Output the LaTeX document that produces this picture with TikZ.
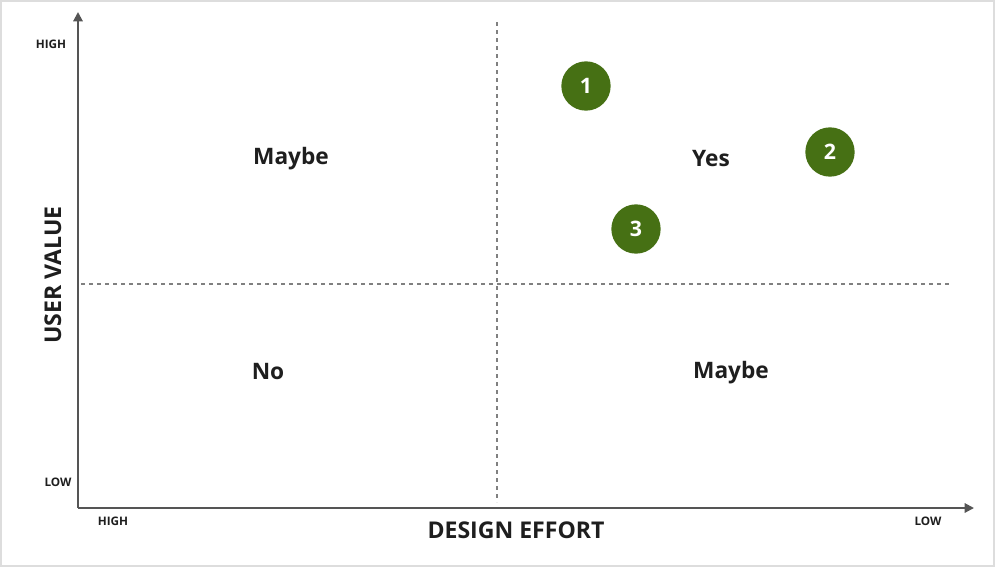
\documentclass[tikz,border=0pt]{standalone}
\usepackage{fontspec}
\setmainfont{Open Sans}
\usetikzlibrary{arrows.meta, positioning}
\usepackage{xcolor}
\definecolor{axisgray}{HTML}{555555}
\definecolor{dashgray}{HTML}{808080}
\definecolor{pointgreen}{HTML}{467014}
\definecolor{framegray}{HTML}{DDDDDD}
\definecolor{textdark}{HTML}{1E1E1E}

\tikzset{
    axis/.style={line width=1.5pt, axisgray, -{Triangle[length=7pt,width=7pt]}},
    divider/.style={line width=0.9pt, dashgray, dash pattern=on 3pt off 3pt},
    tick/.style={font=\bfseries\fontsize{8.8}{10}\selectfont, textdark},
    quadrant/.style={font=\bfseries\fontsize{17}{20}\selectfont, textdark},
    axistitle/.style={font=\bfseries\fontsize{17.3}{20}\selectfont, textdark},
    point/.style={circle, fill=pointgreen, minimum size=37pt, inner sep=0pt,
        text=white, font=\bfseries\fontsize{16}{19}\selectfont}
}

\begin{document}
\begin{tikzpicture}[x=0.75pt, y=-0.75pt]
        \useasboundingbox (0,0) rectangle (996,568);
        % Frame
        \draw[framegray, line width=0.8pt] (1,1) rectangle (994,566);

        % Axes
        \coordinate (origin) at (78,508);
        \coordinate (ytop) at (78,12);
        \coordinate (xend) at (974,508);
        \draw[axis] (origin) -- (ytop);
        \draw[axis] (origin) -- (xend);

        % Quadrant dividers
        \coordinate (vtop) at (497,22);
        \coordinate (vbot) at (497,502);
        \coordinate (hleft) at (81,284);
        \coordinate (hright) at (952,284);
        \draw[divider] (vtop) -- (vbot);
        \draw[divider] (hleft) -- (hright);

        % Axis end labels
        \node[tick] (yhigh) at (51,44) {HIGH};
        \node[tick] (ylow) at (58,482) {LOW};
        \node[tick] (xhigh) at (113,521) {HIGH};
        \node[tick] (xlow) at (928,521) {LOW};

        % Axis titles
        \node[axistitle, rotate=90] (uservalue) at (53,275) {USER VALUE};
        \node[axistitle] (designeffort) at (516,530) {DESIGN EFFORT};

        % Quadrant labels
        \node[quadrant] (maybetop) at (291,159) {Maybe};
        \node[quadrant] (yes) at (711,159) {Yes};
        \node[quadrant] (no) at (268,372) {No};
        \node[quadrant] (maybebot) at (731,373) {Maybe};

        % Features
        \node[point] (p1) at (586,86) {1};
        \node[point] (p2) at (830,152) {2};
        \node[point] (p3) at (636,229) {3};
\end{tikzpicture}
\end{document}
